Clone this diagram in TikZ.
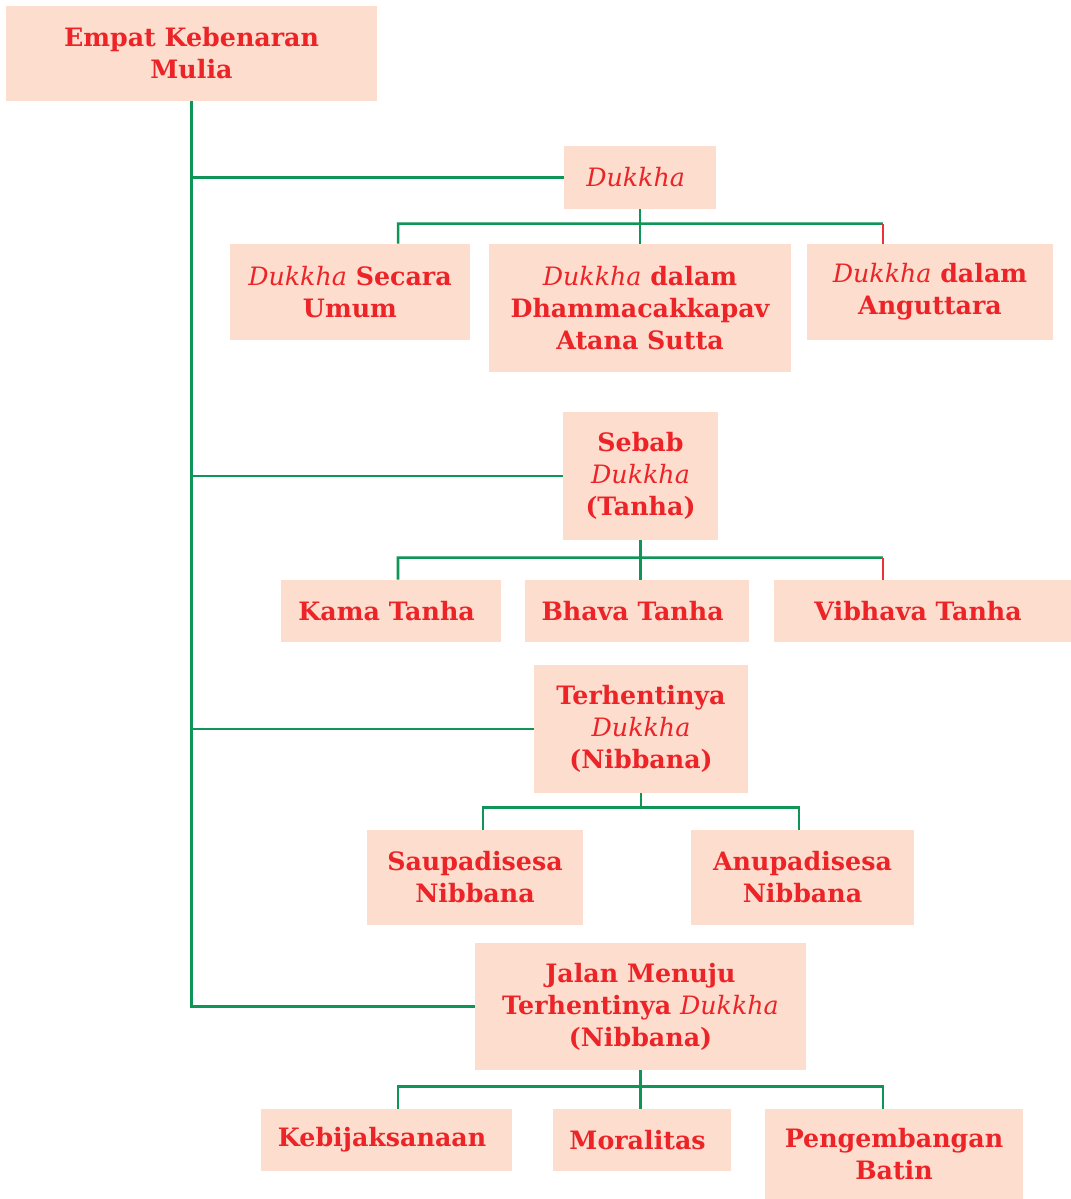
\documentclass[tikz,border=0pt]{standalone}
\usepackage{fontspec}
\setmainfont{DejaVu Serif}
\usepackage{xcolor}
\definecolor{peach}{HTML}{FCDDCE}
\definecolor{redtext}{HTML}{EC2428}
\definecolor{linegreen}{HTML}{0F9558}
\definecolor{linered}{HTML}{EC3238}

\tikzset{
    link/.style={draw=linegreen, line width=1.8pt},
    redlink/.style={draw=linered, line width=1.8pt}
}

\begin{document}
\begin{tikzpicture}[x=0.025cm, y=-0.025cm, every node/.style={
    rectangle,
    inner sep=0pt,
    align=center,
    fill=peach,
    text=redtext,
    font=\fontsize{18}{22.8}\selectfont\bfseries
}]
    \useasboundingbox (0,0) rectangle (1071,1199);

    \node (empat_kebenaran) [minimum width=9.275cm, minimum height=2.375cm, shift={(191.5, 53.5)}]
    {
        Empat Kebenaran\\Mulia
    };



    \node (dukkha) [minimum width=3.8cm, minimum height=1.575cm, shift={(640, 177.5)}]
    {
        \textit{\mdseries Dukkha}
    };
    \node (dukkha_umum) [minimum width=6cm, minimum height=2.4cm, shift={(350, 292)}]
    {
        \textit{\mdseries Dukkha} Secara\\Umum
    };
    \node (dukkha_dhamma) [minimum width=7.55cm, minimum height=3.2cm, shift={(640, 308)}]
    {
        \textit{\mdseries Dukkha} dalam\\Dhammacakkapav\\Atana Sutta
    };
    \node (dukkha_anguttara) [minimum width=6.15cm, minimum height=2.4cm, shift={(930, 292)}]
    {
        \textit{\mdseries Dukkha} dalam\\Anguttara
    };



    \node (sebab_dukkha) [minimum width=3.875cm, minimum height=3.2cm, shift={(640.5, 476)}]
    {
        Sebab\\\textit{\mdseries Dukkha}\\(Tanha)
    };
    \node (kama_tanha) [minimum width=5.5cm, minimum height=1.55cm, shift={(391, 611)}]
    {
        Kama Tanha
    };
    \node (bhava_tanha) [minimum width=5.6cm, minimum height=1.55cm, shift={(637, 611)}]
    {
        Bhava Tanha
    };
    \node (vibhava_tanha) [minimum width=7.425cm, minimum height=1.55cm, shift={(922.5, 611)}]
    {
        Vibhava Tanha
    };



    \node (terhentinya_dukkha) [minimum width=5.35cm, minimum height=3.2cm, shift={(641, 729)}]
    {
        Terhentinya\\\textit{\mdseries Dukkha}\\(Nibbana)
    };
    \node (saupadisesa) [minimum width=5.4cm, minimum height=2.375cm, shift={(475, 877.5)}]
    {
        Saupadisesa\\Nibbana
    };
    \node (anupadisesa) [minimum width=5.575cm, minimum height=2.375cm, shift={(802.5, 877.5)}]
    {
        Anupadisesa\\Nibbana
    };



    \node (jalan_menuju) [minimum width=8.275cm, minimum height=3.175cm, shift={(640.5, 1006.5)}]
    {
        Jalan Menuju\\Terhentinya \textit{\mdseries Dukkha}\\(Nibbana)
    };
    \node (kebijaksanaan) [minimum width=6.275cm, minimum height=1.55cm, shift={(386.5, 1140)}]
    {
        Kebijaksanaan
    };
    \node (moralitas) [minimum width=4.45cm, minimum height=1.55cm, shift={(642, 1140)}]
    {
        Moralitas
    };
    \node (pengembangan_batin) [minimum width=6.45cm, minimum height=2.25cm, shift={(894, 1154)}]
    {
        Pengembangan\\Batin
    };




    \draw[link] (empat_kebenaran.south) |- (jalan_menuju.west);
    \draw[link] (empat_kebenaran.south |- dukkha.west) -- (dukkha.west);
    \draw[link] (empat_kebenaran.south |- sebab_dukkha.west) -- (sebab_dukkha.west);
    \draw[link] (empat_kebenaran.south |- terhentinya_dukkha.west) -- (terhentinya_dukkha.west);


    \draw[link] (dukkha.south) -- (dukkha_dhamma.north);
    \draw[link] ([xshift=1.2cm]dukkha_umum.north) -- ++(0,-20) -- ([xshift=-1.175cm, yshift=0.5cm]dukkha_anguttara.north);
    \draw[redlink] ([xshift=-1.175cm]dukkha_anguttara.north) -- ++(0,-20);


    \draw[link] (sebab_dukkha.south) -- (sebab_dukkha.south |- bhava_tanha.north);
    \draw[link] ([xshift=0.175cm]kama_tanha.north) -- ++(0,-22) -- ([xshift=-0.9875cm, yshift=0.55cm]vibhava_tanha.north);
    \draw[redlink] ([xshift=-0.9875cm]vibhava_tanha.north) -- ++(0,-22);


    \draw[link] ([xshift=0.2cm]saupadisesa.north) -- ++(0,-22) -| ([xshift=-0.0875cm]anupadisesa.north);
    \draw[link] (terhentinya_dukkha.south) -- ++(0,15);


    \draw[link] ([xshift=0.2875cm]kebijaksanaan.north) -- ++(0,-22) -| ([xshift=-0.275cm]pengembangan_batin.north);
    \draw[link] (jalan_menuju.south) -- (jalan_menuju.south |- moralitas.north);


\end{tikzpicture}
\end{document}
